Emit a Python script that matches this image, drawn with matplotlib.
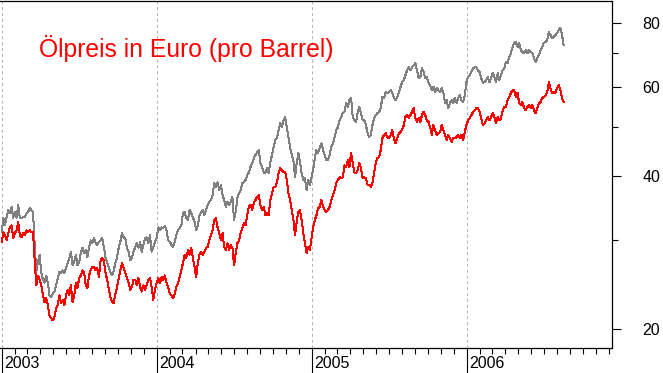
import numpy as np
import pandas as pd
import matplotlib
matplotlib.use("Agg")
import matplotlib.pyplot as plt
import matplotlib.dates as mdates
from matplotlib.ticker import FixedLocator, NullFormatter
import matplotlib.transforms as mtransforms

# oil price (about every 4 days)
usd = [
    31.0, 33.1, 32.0, 33.2, 34.3, 33.8, 34.8, 33.1, 34.0, 33.1, 35.1, 33.1, 33.1, 33.2, 33.2, 33.8,
    34.0, 34.6, 34.3, 34.0, 29.3, 25.9, 27.1, 28.0, 25.9, 25.0, 24.7, 25.5, 24.7, 23.3, 23.1, 23.5,
    23.7, 24.4, 25.2, 25.9, 25.8, 26.1, 25.8, 26.4, 27.0, 27.6, 28.4, 26.7, 27.1, 28.0, 26.7, 27.1,
    # 2003 H2
    28.2, 28.9, 28.2, 28.6, 27.7, 29.0, 29.9, 29.5, 30.2, 29.5, 29.3, 29.7, 29.9, 30.2, 29.0, 27.7,
    27.1, 26.5, 25.9, 25.5, 26.1, 27.0, 27.7, 28.9, 29.7, 30.9, 30.3, 30.2, 28.9, 28.4, 27.3, 27.7,
    28.4, 29.0, 29.5, 28.9, 29.7, 28.4, 29.3, 30.2, 30.3, 29.5, 30.6, 28.4, 29.0, 29.7, 30.2, 31.7,
    31.3, 31.7,
    # 2004 H1
    31.6, 31.9, 31.3, 29.9, 29.7, 29.3, 29.0, 29.7, 30.6, 31.3, 31.6, 32.0, 33.8, 34.0, 33.1, 32.8,
    34.3, 33.8, 33.2, 32.5, 31.3, 32.0, 33.5, 34.0, 34.3, 33.5, 34.3, 35.1, 35.6, 35.9, 36.7, 38.8,
    38.1, 38.9, 37.5, 38.4, 36.7, 35.9, 34.8, 35.6, 35.1, 35.6, 36.4, 32.8, 34.0, 36.2, 37.0, 37.5,
    38.8, 38.9,
    # 2004 H2
    39.3, 40.2, 40.7, 41.7, 42.4, 43.4, 44.0, 44.6, 45.0, 42.4, 41.7, 40.7, 40.5, 41.5, 40.5, 42.6,
    44.0, 45.6, 47.1, 47.5, 49.3, 50.8, 49.9, 51.5, 52.3, 49.9, 47.7, 45.6, 44.0, 43.0, 39.8, 42.4,
    44.4, 42.6, 40.5, 39.3, 39.6, 37.5, 39.3, 38.4, 39.8, 41.1, 43.4, 45.0, 44.4, 45.4, 46.4, 45.0,
    44.0, 43.0,
    # 2005 H1
    43.0, 44.0, 45.6, 46.4, 47.7, 49.3, 49.9, 51.5, 52.3, 53.2, 53.5, 55.7, 54.7, 56.4, 57.0, 52.3,
    51.5, 51.1, 53.2, 54.7, 53.2, 51.5, 51.5, 50.4, 48.6, 47.7, 48.2, 50.4, 52.0, 52.7, 53.2, 53.5,
    54.4, 57.2, 57.0, 58.5, 58.3, 58.5, 59.0, 58.3, 57.0, 56.4, 57.2, 58.3, 59.9, 61.2, 61.8, 63.2,
    64.6, 65.5,
    # 2005 H2
    64.6, 65.5, 66.1, 66.7, 64.6, 62.3, 62.6, 65.2, 64.1, 62.3, 62.6, 61.0, 60.4, 59.0, 59.9, 58.5,
    59.6, 59.0, 58.5, 59.6, 58.3, 55.7, 56.4, 54.4, 55.7, 56.4, 55.7, 57.0, 55.7, 57.0, 57.7, 56.4,
    55.9, 57.7, 61.2, 62.6, 63.2, 64.1, 65.2, 65.5, 65.5, 64.6, 64.1, 62.3, 61.0, 61.2, 61.8, 62.6,
    61.2, 62.6,
    # 2006
    63.8, 62.6, 61.2, 63.8, 61.8, 63.2, 64.6, 65.2, 67.0, 66.7, 68.6, 69.8, 71.8, 73.1, 73.4, 71.8,
    73.1, 70.8, 70.1, 69.8, 70.8, 69.8, 70.8, 70.1, 69.8, 68.3, 67.0, 68.3, 69.2, 70.8, 71.8, 73.1,
    73.4, 74.0, 76.8, 75.8, 74.7, 75.1, 75.8, 76.4, 77.5, 78.2, 75.8, 72.4,
]

eur = [
    29.7, 31.0, 30.6, 29.9, 30.9, 31.7, 32.0, 30.2, 30.9, 31.3, 32.5, 30.6, 30.3, 30.9, 30.6, 31.3,
    31.0, 31.3, 31.0, 31.0, 27.3, 24.4, 25.5, 25.0, 24.4, 23.3, 22.6, 23.0, 22.3, 21.3, 21.0, 20.8,
    21.1, 22.0, 22.3, 23.3, 22.5, 22.8, 22.3, 23.3, 23.9, 23.3, 24.4, 22.6, 23.3, 24.7, 24.1, 25.2,
    # 2003 H2
    25.5, 26.1, 25.8, 24.4, 24.1, 25.5, 26.1, 26.5, 26.5, 26.1, 26.4, 25.3, 27.3, 27.6, 27.3, 25.8,
    25.0, 23.9, 23.1, 22.6, 22.5, 23.5, 24.2, 25.2, 26.1, 27.0, 26.4, 25.8, 25.2, 24.7, 23.9, 24.2,
    25.0, 25.0, 24.4, 25.2, 24.2, 23.7, 24.4, 23.9, 24.4, 25.0, 25.2, 24.2, 22.8, 23.9, 24.6, 25.2,
    24.6, 25.3,
    # 2004 H1
    25.0, 25.5, 24.7, 24.2, 23.5, 23.3, 23.0, 23.5, 24.2, 24.6, 25.3, 26.1, 27.0, 28.0, 27.6, 28.6,
    28.0, 28.9, 27.7, 26.5, 25.3, 27.0, 28.0, 28.4, 28.0, 28.4, 28.9, 29.0, 29.9, 30.6, 31.3, 32.8,
    33.1, 31.7, 30.9, 29.9, 30.9, 29.0, 28.6, 29.5, 28.6, 29.3, 28.9, 26.7, 28.2, 29.5, 29.9, 30.9,
    31.6, 32.3,
    # 2004 H2
    32.0, 33.5, 34.8, 35.1, 34.3, 35.4, 35.9, 36.4, 36.7, 35.1, 34.3, 34.8, 33.5, 33.8, 33.5, 35.9,
    37.0, 38.1, 38.1, 38.8, 40.5, 41.5, 41.1, 40.7, 40.7, 39.3, 37.0, 35.9, 34.3, 32.8, 30.6, 32.5,
    34.0, 34.3, 32.8, 30.9, 29.5, 28.2, 29.0, 28.6, 30.2, 31.7, 32.8, 33.5, 34.6, 34.8, 35.9, 34.8,
    34.3, 34.0,
    # 2005 H1
    34.3, 34.8, 35.9, 36.7, 37.5, 38.8, 39.3, 39.8, 39.6, 39.8, 42.0, 41.7, 43.0, 41.7, 44.4, 42.4,
    40.7, 40.5, 41.1, 42.4, 41.5, 39.6, 39.8, 39.6, 38.4, 38.4, 38.1, 38.9, 40.5, 42.6, 43.4, 43.6,
    45.0, 47.5, 48.2, 48.6, 47.7, 47.5, 48.2, 49.3, 47.5, 46.4, 47.5, 48.6, 48.8, 49.3, 50.4, 52.3,
    52.7, 52.0,
    # 2005 H2
    52.7, 53.5, 54.4, 52.0, 51.1, 52.0, 51.1, 52.7, 53.5, 52.7, 51.5, 51.1, 49.9, 48.2, 50.4, 49.3,
    48.2, 48.6, 48.8, 50.4, 49.3, 48.2, 47.1, 48.2, 47.5, 46.7, 47.5, 47.5, 47.7, 48.2, 47.5, 48.2,
    47.1, 48.8, 50.4, 51.5, 52.0, 52.7, 53.5, 53.9, 54.4, 54.4, 53.5, 52.0, 50.4, 50.8, 51.5, 52.3,
    51.5, 52.3,
    # 2006
    53.2, 52.3, 50.8, 52.3, 51.5, 52.0, 53.9, 54.7, 54.7, 56.4, 57.2, 58.3, 59.0, 59.0, 57.2, 58.3,
    55.7, 55.2, 55.9, 54.4, 53.9, 54.7, 55.2, 54.4, 55.2, 53.9, 53.2, 54.4, 55.7, 55.9, 57.0, 57.2,
    57.7, 58.3, 61.2, 59.6, 58.3, 58.5, 58.3, 59.6, 60.4, 59.0, 57.0, 55.9,
]

first_day = "2002-12-31"
last_day = "2006-08-17"
years = [2003, 2004, 2005, 2006]
y_major = [20, 40, 60, 80]
y_minor = [30, 50, 70]
title = "Ölpreis in Euro (pro Barrel)"

dates = pd.date_range(first_day, last_day, periods=len(usd))

plt.rcParams["font.family"] = ["Liberation Sans", "DejaVu Sans"]

fig = plt.figure(figsize=(6.63, 3.73), dpi=100)
ax = fig.add_axes([0, 25 / 373, 612 / 663, 347 / 373])

# no antialiasing: the original is a crisp 1 px bitmap chart
ax.plot(dates, usd, color="#808080", lw=0.72, antialiased=False)
ax.plot(dates, eur, color="#ff0000", lw=0.72, antialiased=False)

ax.set_yscale("log")
ax.set_ylim(18.36, 88.4)
ax.set_xlim(pd.Timestamp("2002-12-27"), pd.Timestamp("2006-12-09"))

# right hand price axis
ax.yaxis.tick_right()
ax.yaxis.set_major_locator(FixedLocator(y_major))
ax.yaxis.set_major_formatter(plt.FixedFormatter([str(v) for v in y_major]))
ax.yaxis.set_minor_locator(FixedLocator(y_minor))
ax.yaxis.set_minor_formatter(NullFormatter())
ax.tick_params(axis="y", which="major", length=6.3, width=0.8, pad=15.5, labelsize=11.5)
ax.tick_params(axis="y", which="minor", length=4.5, width=0.8)

# time axis: month ticks, long year ticks, labels right of them
ax.xaxis.set_major_locator(mdates.YearLocator())
ax.xaxis.set_minor_locator(mdates.MonthLocator())
ax.xaxis.set_major_formatter(NullFormatter())
ax.tick_params(axis="x", which="major", length=18, width=0.8)
ax.tick_params(axis="x", which="minor", length=4.5, width=0.8)
ax.grid(axis="x", which="major", color="#b0b0b0", linestyle=(0, (3, 3)), lw=0.7)

shift = mtransforms.ScaledTranslation(2 / 100, 0, fig.dpi_scale_trans)
for yr in years:
    ax.text(pd.Timestamp(f"{yr}-01-01"), -16 / 347, str(yr), fontsize=11.5,
            ha="left", va="center", transform=ax.get_xaxis_transform() + shift)

ax.spines["left"].set_visible(False)
for s in ["top", "right", "bottom"]:
    ax.spines[s].set_linewidth(0.9)

ax.text(39 / 612, 1 - 47 / 347, title, transform=ax.transAxes, color="#ff0000",
        fontsize=17.8, ha="left", va="center")

fig.savefig("out.png", dpi=100)
